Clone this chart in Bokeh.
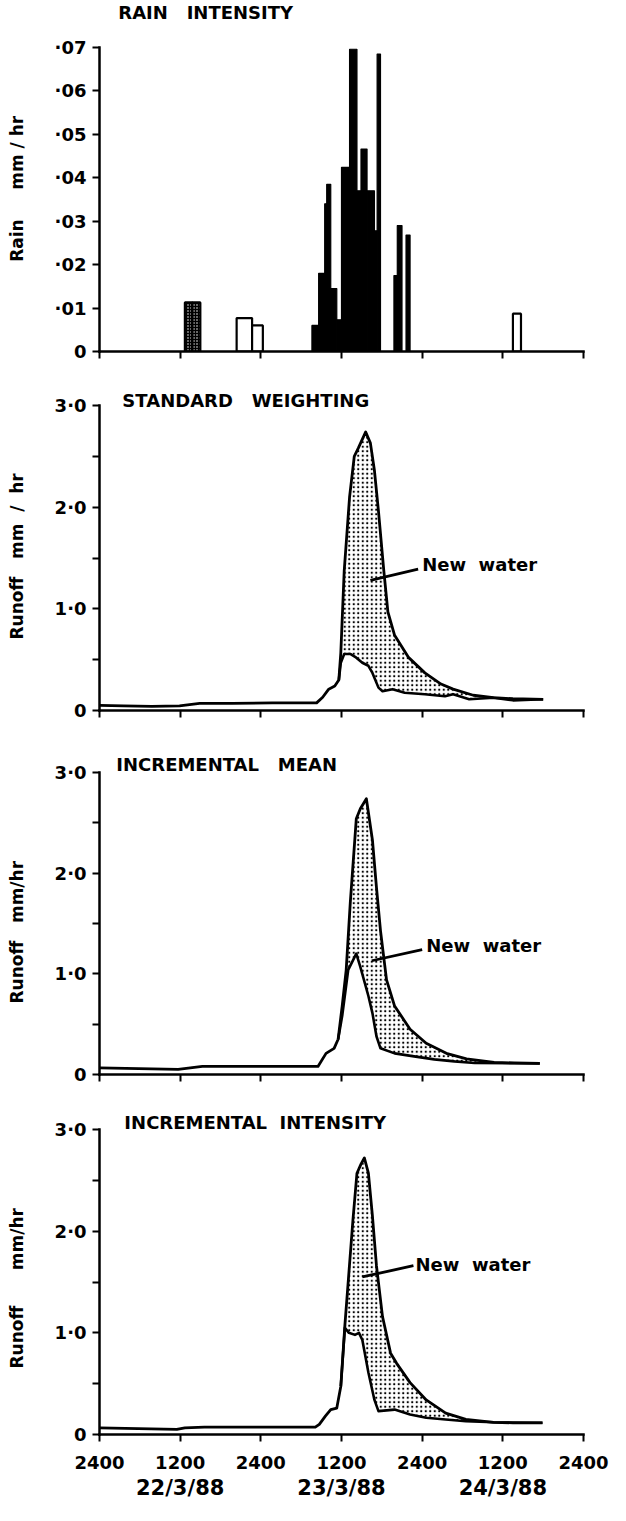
from bokeh.plotting import figure
from bokeh.layouts import column
from bokeh.models import FixedTicker, LinearAxis, Label, Range1d
from bokeh.embed import file_html
from bokeh.resources import INLINE

# ---------------- data ----------------
HOUR_TICKS = [0, 12, 24, 36, 48, 60, 72]
X_TICK_LABELS = ["2400", "1200", "2400", "1200", "2400", "1200", "2400"]
DATE_TICKS = [12, 36, 60]
DATE_LABELS = ["22/3/88", "23/3/88", "24/3/88"]

RAIN_TICKS = [0, 0.01, 0.02, 0.03, 0.04, 0.05, 0.06, 0.07]
RAIN_TICK_LABELS = ["0", "·01", "·02", "·03", "·04", "·05", "·06", "·07"]
RUNOFF_TICKS = [0, 1, 2, 3]
RUNOFF_TICK_LABELS = ["0", "1·0", "2·0", "3·0"]
RUNOFF_MINOR = [0.5, 1.5, 2.5]

# rain bars (hours from 2400 21/3/88), mm/hr
RAIN_STIPPLE_LEFT = [12.7, 13.8]
RAIN_STIPPLE_RIGHT = [13.8, 15.0]
RAIN_STIPPLE_VALUE = [0.0113, 0.0113]

RAIN_OPEN_LEFT = [20.4, 22.7, 61.5]
RAIN_OPEN_RIGHT = [22.7, 24.3, 62.7]
RAIN_OPEN_VALUE = [0.0077, 0.0060, 0.0087]

RAIN_SOLID_LEFT = [31.6, 32.6, 33.5, 33.8, 34.4, 35.3, 36.0, 37.2, 38.3, 38.9, 39.8, 40.9, 41.3, 43.8, 44.3, 45.6]
RAIN_SOLID_RIGHT = [32.6, 33.5, 33.8, 34.4, 35.3, 36.0, 37.2, 38.3, 38.9, 39.8, 40.9, 41.3, 41.8, 44.3, 45.0, 46.2]
RAIN_SOLID_VALUE = [0.006, 0.018, 0.034, 0.0385, 0.0145, 0.0073, 0.0424, 0.0696, 0.037, 0.0466, 0.037, 0.0278, 0.0685, 0.0175, 0.029, 0.0268]

# Standard weighting
SW_TOTAL_X = [0, 3.6, 7.8, 11.9, 14.9, 19.7, 25.7, 32.3, 33.2, 34.1, 35.0, 35.6, 35.9, 36.4, 37.2, 37.9, 38.5, 39.6,
              40.3, 40.9, 41.5, 42.3, 42.9, 43.9, 46.0, 48.4, 50.8, 52.6, 55.6, 58.6, 61.5, 66.0]
SW_TOTAL_Y = [0.05, 0.045, 0.04, 0.045, 0.07, 0.07, 0.075, 0.075, 0.13, 0.21, 0.24, 0.30, 0.57, 1.37, 2.10, 2.50, 2.58, 2.74,
              2.63, 2.36, 1.96, 1.37, 0.97, 0.74, 0.52, 0.37, 0.26, 0.21, 0.15, 0.126, 0.116, 0.11]
SW_OLD_X = [35.6, 35.9, 36.4, 37.3, 38.2, 39.1, 40.0, 40.6, 41.5, 42.1, 43.6, 45.4, 48.4, 51.4, 52.6, 55.0, 58.6, 61.5, 66.0]
SW_OLD_Y = [0.30, 0.47, 0.556, 0.556, 0.52, 0.47, 0.44, 0.37, 0.225, 0.19, 0.21, 0.175, 0.16, 0.14, 0.16, 0.11, 0.126, 0.10, 0.11]

# Incremental mean
IM_TOTAL_X = [0, 11.7, 15.3, 32.5, 33.7, 34.9, 35.5, 36.1, 36.7, 37.3, 38.2, 38.8, 39.7, 40.6, 41.2, 41.8, 42.7, 43.9,
              46.2, 48.6, 51.6, 54.6, 58.7, 61.7, 65.5]
IM_TOTAL_Y = [0.066, 0.05, 0.08, 0.08, 0.21, 0.26, 0.35, 0.68, 1.04, 1.70, 2.54, 2.64, 2.74, 2.33, 1.86, 1.43, 0.94, 0.68,
              0.45, 0.31, 0.21, 0.155, 0.12, 0.115, 0.11]
IM_OLD_X = [35.5, 36.1, 37.0, 38.2, 38.8, 40.0, 40.6, 41.2, 41.8, 43.9, 46.8, 49.8, 52.8, 55.8, 65.5]
IM_OLD_Y = [0.35, 0.58, 1.04, 1.20, 1.07, 0.78, 0.61, 0.38, 0.26, 0.21, 0.18, 0.15, 0.13, 0.115, 0.11]

# Incremental intensity
II_TOTAL_X = [0, 11.5, 12.7, 15.6, 32.1, 32.7, 33.6, 34.4, 35.3, 35.9, 36.5, 37.1, 37.7, 38.3, 38.9, 39.4, 40.0, 40.6,
              41.2, 42.1, 43.3, 44.2, 46.2, 48.6, 51.5, 54.5, 58.6, 61.5, 65.9]
II_TOTAL_Y = [0.066, 0.05, 0.066, 0.072, 0.072, 0.10, 0.18, 0.245, 0.26, 0.475, 1.07, 1.59, 2.11, 2.57, 2.66, 2.72, 2.57, 2.15,
              1.66, 1.16, 0.80, 0.70, 0.51, 0.34, 0.21, 0.148, 0.12, 0.115, 0.115]
II_OLD_X = [35.9, 36.5, 37.1, 38.0, 38.6, 39.1, 40.0, 40.9, 41.5, 43.9, 46.2, 48.6, 51.5, 54.5, 58.6, 65.9]
II_OLD_Y = [0.475, 1.05, 1.00, 0.98, 1.00, 0.93, 0.61, 0.34, 0.23, 0.245, 0.197, 0.164, 0.148, 0.13, 0.12, 0.115]

FONT = "DejaVu Sans"
FIG_W = 610
BORDER_L = 99
BORDER_R = 27
NB = "\u00a0"


def style_axis(ax, label_size="18px"):
    ax.axis_line_width = 2.5
    ax.axis_line_color = "black"
    ax.axis_line_cap = "square"
    ax.major_tick_line_width = 2
    ax.major_tick_line_color = "black"
    ax.major_tick_in = 0
    ax.major_tick_out = 7
    ax.minor_tick_line_width = 2
    ax.minor_tick_line_color = "black"
    ax.minor_tick_in = 0
    ax.minor_tick_out = 7
    ax.major_label_text_font = FONT
    ax.major_label_text_font_style = "bold"
    ax.major_label_text_font_size = label_size
    ax.major_label_text_color = "black"
    ax.axis_label_text_font = FONT
    ax.axis_label_text_font_style = "bold"
    ax.axis_label_text_font_size = "17px"
    ax.axis_label_text_color = "black"


def make_fig(height, top, bottom, axis_px, y_top, y_ticks, y_labels, y_minor, y_label, x_labels):
    frame_h = height - top - bottom
    y_end = y_top * frame_h / axis_px
    p = figure(width=FIG_W, height=height, min_border_left=BORDER_L, min_border_right=BORDER_R,
               min_border_top=top, min_border_bottom=bottom,
               x_range=Range1d(0, 72), y_range=Range1d(0, y_end),
               output_backend="svg", toolbar_location=None, tools="")
    p.outline_line_color = None
    p.grid.visible = False
    xa = p.xaxis[0]
    ya = p.yaxis[0]
    style_axis(xa, "18px")
    style_axis(ya)
    xa.ticker = FixedTicker(ticks=HOUR_TICKS, minor_ticks=[])
    if x_labels:
        xa.major_label_overrides = dict(zip(HOUR_TICKS, X_TICK_LABELS))
        xa.major_label_standoff = 14
    else:
        xa.major_label_overrides = {t: "" for t in HOUR_TICKS}
        xa.major_label_standoff = 0
        xa.major_label_text_font_size = "1px"
    ya.ticker = FixedTicker(ticks=y_ticks, minor_ticks=y_minor)
    ya.bounds = (0, y_top)
    ya.major_label_overrides = dict(zip(y_ticks, y_labels))
    ya.major_label_standoff = 6
    ya.axis_label = y_label
    ya.axis_label_standoff = 25
    return p


def add_title(p, text, x, y, dy):
    p.add_layout(Label(x=x, y=y, y_offset=dy, text=text, text_font=FONT, text_font_style="bold",
                       text_font_size="18px", text_color="black", text_baseline="middle", text_align="left"))


def add_runoff(p, tx, ty, ox, oy, note):
    x0 = ox[0]
    sx = [x for x in tx if x >= x0]
    sy = [y for x, y in zip(tx, ty) if x >= x0]
    p.patch(sx + ox[::-1], sy + oy[::-1], fill_color="white", line_color=None,
            hatch_pattern="dot", hatch_color="black", hatch_scale=4.5, hatch_weight=2)
    p.line(tx, ty, line_color="black", line_width=2.8, line_join="round")
    p.line(ox, oy, line_color="black", line_width=2.6, line_join="round")
    (lx, ly), (ax0, ay0), (ax1, ay1) = note
    p.segment(x0=[ax0], y0=[ay0], x1=[ax1], y1=[ay1], line_color="black", line_width=2.8)
    p.add_layout(Label(x=lx, y=ly, text="New" + NB * 2 + "water", text_font=FONT, text_font_style="bold",
                       text_font_size="18px", text_color="black", text_baseline="middle", text_align="left"))


# ---------------- panel 1 : rain ----------------
p1 = make_fig(372, 2, 21, 304, 0.07, RAIN_TICKS, RAIN_TICK_LABELS, [],
              "Rain" + NB * 5 + "mm" + NB + "/" + NB + "hr" + NB * 4, False)
p1.quad(left=RAIN_SOLID_LEFT, right=RAIN_SOLID_RIGHT, bottom=0, top=RAIN_SOLID_VALUE,
        fill_color="black", line_color="black", line_width=1.2)
p1.quad(left=RAIN_OPEN_LEFT, right=RAIN_OPEN_RIGHT, bottom=0, top=RAIN_OPEN_VALUE,
        fill_color="white", line_color="black", line_width=2.2)
p1.quad(left=RAIN_STIPPLE_LEFT, right=RAIN_STIPPLE_RIGHT, bottom=0, top=RAIN_STIPPLE_VALUE,
        fill_color="black", line_color="black", line_width=2.2,
        hatch_pattern="dot", hatch_color="white", hatch_scale=3, hatch_weight=1.5)
add_title(p1, "RAIN" + NB * 3 + "INTENSITY", 2.8, 0.07, 35)

# ---------------- panel 2 ----------------
p2 = make_fig(380, 18, 42, 305, 3.0, RUNOFF_TICKS, RUNOFF_TICK_LABELS, RUNOFF_MINOR,
              "Runoff" + NB * 3 + "mm" + NB * 2 + "/" + NB * 2 + "hr" + NB * 2, False)
add_runoff(p2, SW_TOTAL_X, SW_TOTAL_Y, SW_OLD_X, SW_OLD_Y,
           ((48.0, 1.44), (47.4, 1.39), (40.3, 1.28)))
add_title(p2, "STANDARD" + NB * 3 + "WEIGHTING", 3.4, 3.0, 5)

# ---------------- panel 3 ----------------
p3 = make_fig(355, 2, 33, 302, 3.0, RUNOFF_TICKS, RUNOFF_TICK_LABELS, RUNOFF_MINOR,
              "Runoff" + NB * 3 + "mm/hr" + NB * 6, False)
add_runoff(p3, IM_TOTAL_X, IM_TOTAL_Y, IM_OLD_X, IM_OLD_Y,
           ((48.6, 1.28), (48.0, 1.24), (40.5, 1.13)))
add_title(p3, "INCREMENTAL" + NB * 3 + "MEAN", 2.5, 3.0, 8)

# ---------------- panel 4 ----------------
p4 = make_fig(398, 5, 71, 305, 3.0, RUNOFF_TICKS, RUNOFF_TICK_LABELS, RUNOFF_MINOR,
              "Runoff" + NB * 6 + "mm/hr" + NB * 5, True)
add_runoff(p4, II_TOTAL_X, II_TOTAL_Y, II_OLD_X, II_OLD_Y,
           ((47.0, 1.67), (46.7, 1.66), (39.1, 1.55)))
add_title(p4, "INCREMENTAL" + NB * 2 + "INTENSITY", 3.7, 3.0, 7)

date_axis = LinearAxis(ticker=FixedTicker(ticks=DATE_TICKS, minor_ticks=[]))
style_axis(date_axis, "21px")
date_axis.axis_line_color = None
date_axis.major_tick_line_color = None
date_axis.major_tick_out = 0
date_axis.major_label_standoff = 4
date_axis.major_label_overrides = dict(zip(DATE_TICKS, DATE_LABELS))
p4.add_layout(date_axis, "below")

layout = column(p1, p2, p3, p4, spacing=0)
open("out.html", "w").write(file_html(layout, INLINE))
